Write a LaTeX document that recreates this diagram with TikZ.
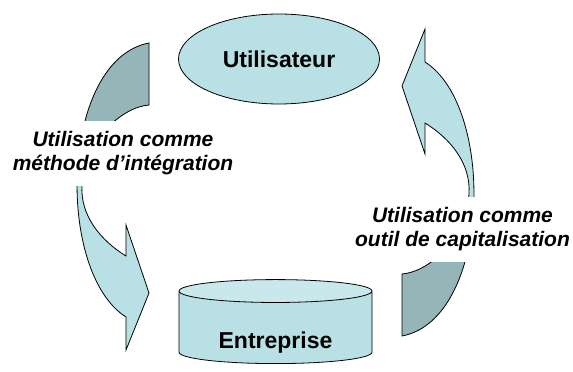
\documentclass[tikz,border=0pt]{standalone}
\usepackage{fontspec}
\setmainfont{Liberation Sans}
\usetikzlibrary{shapes.geometric}

\definecolor{ribbonlight}{RGB}{185,224,228}
\definecolor{ribbondark}{RGB}{150,181,184}
\definecolor{capfill}{RGB}{200,232,235}

% one curved ribbon arrow, left side of the cycle
\newcommand{\cyclearrowpath}{(149,43) -- (149,105)
  .. controls (122,107) and (85,140) .. (82,185)
  .. controls (80,215) and (100,240) .. (126,256)
  -- (126,225) -- (149,293) -- (126,350) -- (126,317)
  .. controls (55,272) and (60,60) .. (149,43) -- cycle}

\begin{document}
\begin{tikzpicture}[x=1pt, y=-1pt,
    ribbon/.style={draw=black, line width=0.8pt, line join=miter},
    actor/.style={ellipse, draw, line width=0.8pt, fill=ribbonlight, minimum width=201pt, minimum height=90pt, font=\fontsize{23}{26}\selectfont\bfseries},
    base/.style={cylinder, shape border rotate=90, aspect=0.19, draw, line width=0.8pt, cylinder uses custom fill, cylinder body fill=ribbonlight, cylinder end fill=capfill, minimum width=193pt, minimum height=84pt, text height=38pt, text depth=0pt, font=\fontsize{23}{26}\selectfont\bfseries},
    usage/.style={fill=white, align=center, inner sep=0pt, minimum height=65pt, font=\fontsize{21}{24}\selectfont\bfseries\itshape}
]
\useasboundingbox (0,0) rectangle (573,372);

% left ribbon
\fill[ribbonlight] \cyclearrowpath;
\begin{scope}
  \clip (0,0) rectangle (573,150);
  \fill[ribbondark] \cyclearrowpath;
\end{scope}
\draw[ribbon] \cyclearrowpath;

% right ribbon
\begin{scope}[rotate around={180:(275.5,189.5)}]
  \fill[ribbonlight] \cyclearrowpath;
  \begin{scope}
    \clip (0,0) rectangle (573,150);
    \fill[ribbondark] \cyclearrowpath;
  \end{scope}
  \draw[ribbon] \cyclearrowpath;
\end{scope}

\node[actor] (user) at (279,59) {Utilisateur};
\node[base] (firm) at (275.5,329) {Entreprise};

\node[usage] (integ) at (123,153) {Utilisation comme\\méthode d’intégration};
\node[usage] (capit) at (462.5,229) {Utilisation comme\\outil de capitalisation};
\end{tikzpicture}
\end{document}
